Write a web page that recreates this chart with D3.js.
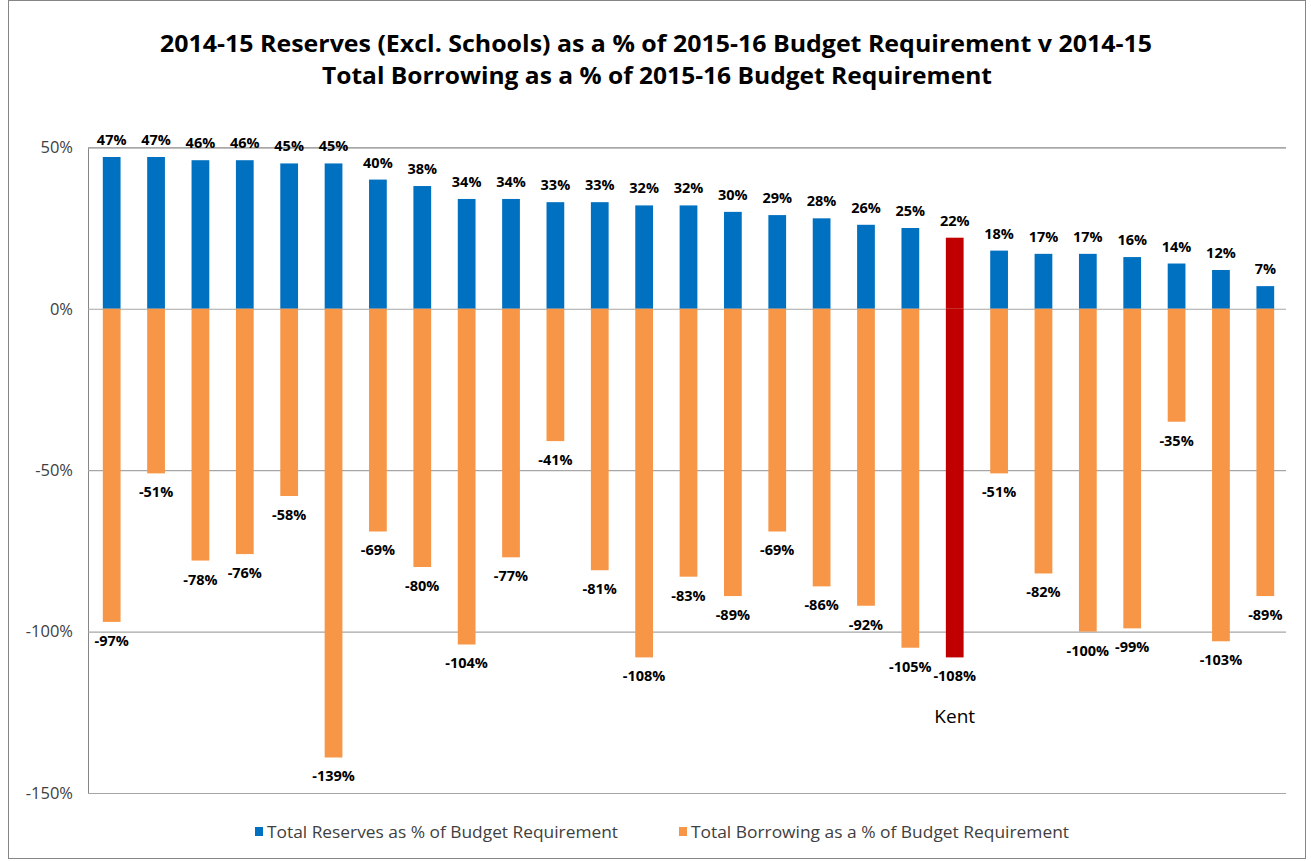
<!DOCTYPE html>
<html><head><meta charset="utf-8">
<script src="https://cdn.jsdelivr.net/npm/d3@7"></script>
<style>body{margin:0;background:#fff;}svg{display:block;}</style>
</head><body>
<svg id="chart" width="1311" height="861"></svg>
<script>
const categories = d3.range(1, 28).map(i => "C" + i);
categories[19] = "Kent";
const reserves = [47,47,46,46,45,45,40,38,34,34,33,33,32,32,30,29,28,26,25,22,18,17,17,16,14,12,7];
const borrowing = [-97,-51,-78,-76,-58,-139,-69,-80,-104,-77,-41,-81,-108,-83,-89,-69,-86,-92,-105,-108,-51,-82,-100,-99,-35,-103,-89];
const yTicks = [50, 0, -50, -100, -150];
const seriesNames = ["Total Reserves as % of Budget Requirement", "Total Borrowing as a % of Budget Requirement"];
const titleLines = ["2014-15 Reserves (Excl. Schools) as a % of 2015-16 Budget Requirement v 2014-15", "Total Borrowing as a % of 2015-16 Budget Requirement"];
const highlight = "Kent";

const colors = {res: "#0070C0", bor: "#F79646", hi: "#C00000"};
const svg = d3.select("#chart");
const pLeft = 88, pRight = 1286, pTop = 147.3, pBottom = 793;

svg.append("rect").attr("x", 8.5).attr("y", 0.5).attr("width", 1297).attr("height", 858)
  .attr("fill", "#fff").attr("stroke", "#868686").attr("stroke-width", 1);

// Title
const title = svg.append("g").attr("text-anchor", "middle")
  .attr("font-family", "'Open Sans', sans-serif").attr("font-weight", "bold").attr("font-size", 23.5).attr("fill", "#000");
title.append("text").attr("x", 656).attr("y", 52).attr("textLength", 992).attr("lengthAdjust", "spacingAndGlyphs").text(titleLines[0]);
title.append("text").attr("x", 657).attr("y", 84).attr("textLength", 670).attr("lengthAdjust", "spacingAndGlyphs").text(titleLines[1]);

const x = d3.scaleBand().domain(categories).range([pLeft, pRight]).paddingInner(0.6).paddingOuter(0.3);
const y = d3.scaleLinear().domain([-150, 50]).range([pBottom, pTop]);

const pct = d => d + "%";

// gridlines
const yAxis = d3.axisLeft(y).tickValues(yTicks).tickSize(-(pRight - pLeft)).tickFormat(pct);
const gA = svg.append("g").attr("transform", `translate(${pLeft},0)`).call(yAxis);
gA.select(".domain").attr("stroke", "#868686");
gA.selectAll(".tick line").attr("stroke", "#A6A6A6").attr("stroke-width", 1.2);
gA.selectAll(".tick text").attr("x", -15).attr("fill", "#404040")
  .attr("font-family", "'Open Sans', sans-serif").attr("font-size", 16.5);

const data = categories.map((c, i) => ({c, r: reserves[i], b: borrowing[i]}));
const colR = d => d.c === highlight ? colors.hi : colors.res;
const colB = d => d.c === highlight ? colors.hi : colors.bor;
const off = 1.5;

svg.append("g").selectAll("rect").data(data).join("rect")
  .attr("x", d => x(d.c) + off).attr("width", x.bandwidth())
  .attr("y", d => y(d.r)).attr("height", d => y(0) - y(d.r)).attr("fill", colR);
svg.append("g").selectAll("rect").data(data).join("rect")
  .attr("x", d => x(d.c) + off).attr("width", x.bandwidth())
  .attr("y", y(0)).attr("height", d => y(d.b) - y(0)).attr("fill", colB);

const lbl = svg.append("g").attr("font-family", "'Open Sans', sans-serif").attr("font-weight", "bold")
  .attr("font-size", 14.5).attr("text-anchor", "middle").attr("fill", "#000");
lbl.selectAll(".p").data(data).join("text").attr("class", "p")
  .attr("x", d => x(d.c) + off + x.bandwidth() / 2).attr("y", d => y(d.r) - 12).text(d => pct(d.r));
lbl.selectAll(".n").data(data).join("text").attr("class", "n")
  .attr("x", d => x(d.c) + off + x.bandwidth() / 2).attr("y", d => y(d.b) + 24).text(d => pct(d.b));

// Kent label
svg.append("text").attr("x", x(highlight) + off + x.bandwidth() / 2).attr("y", 723).attr("text-anchor", "middle")
  .attr("font-family", "'Open Sans', sans-serif").attr("font-size", 19).attr("fill", "#000").text(highlight);

// Legend
const leg = svg.append("g").attr("font-family", "'Open Sans', sans-serif").attr("font-size", 16.5).attr("fill", "#404040");
const legItems = [{n: seriesNames[0], c: colors.res, x: 255, w: 351}, {n: seriesNames[1], c: colors.bor, x: 679, w: 378}];
legItems.forEach(it => {
  leg.append("rect").attr("x", it.x).attr("y", 827).attr("width", 8).attr("height", 9).attr("fill", it.c);
  leg.append("text").attr("x", it.x + 12).attr("y", 838).attr("textLength", it.w).attr("lengthAdjust", "spacingAndGlyphs").text(it.n);
});
</script>
</body></html>
